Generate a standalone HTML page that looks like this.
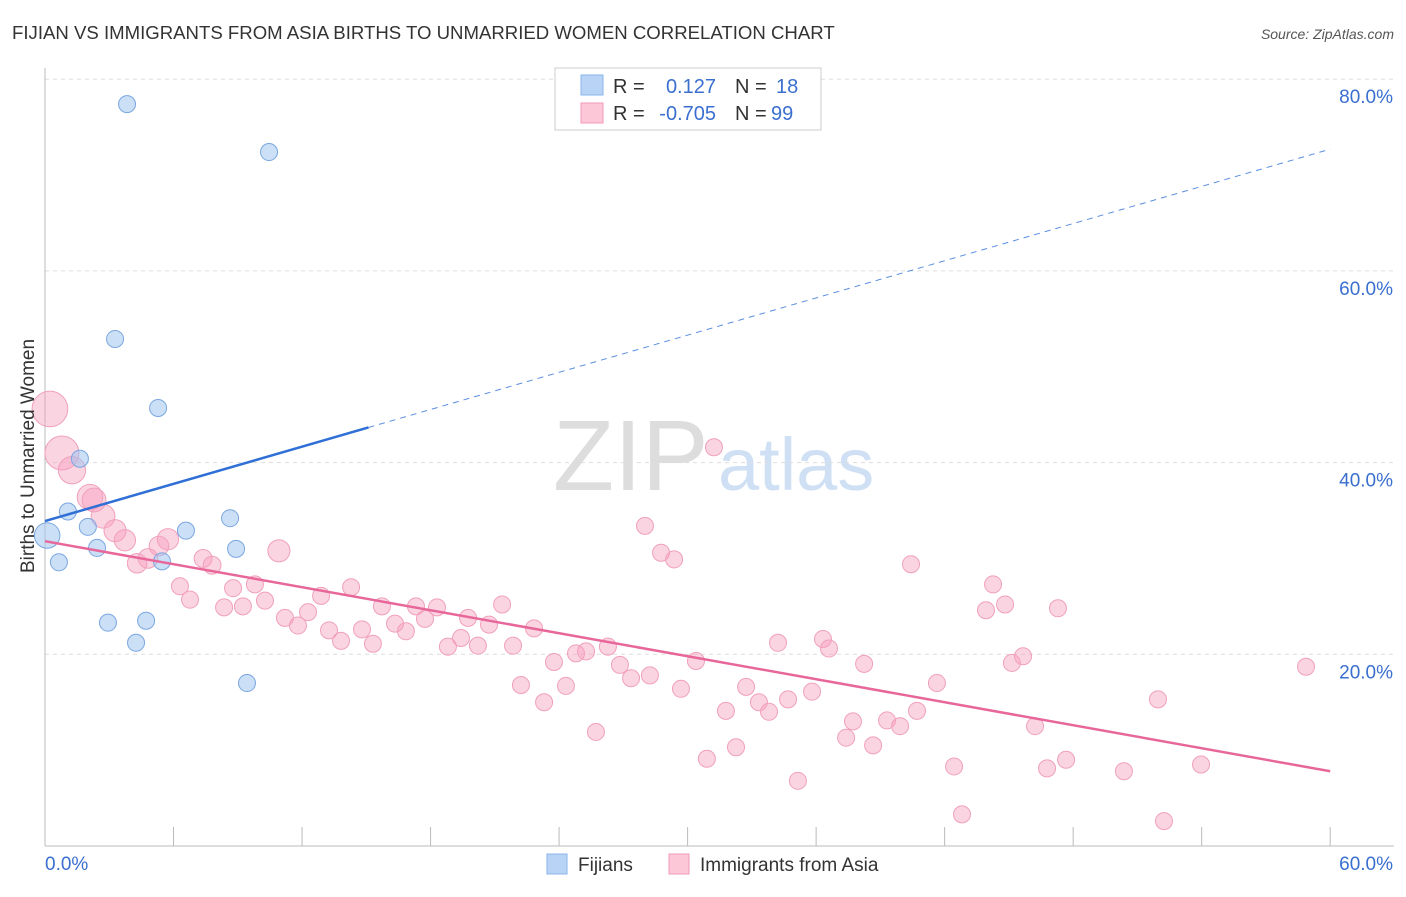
<!DOCTYPE html>
<html><head><meta charset="utf-8"><style>
body{margin:0;background:#fff;font-family:"Liberation Sans",sans-serif;}
svg text{font-family:"Liberation Sans",sans-serif;}
</style></head><body>
<svg id="chart" width="1406" height="892" xmlns="http://www.w3.org/2000/svg">
<text x="12" y="39" font-size="18.6" fill="#333">FIJIAN VS IMMIGRANTS FROM ASIA BIRTHS TO UNMARRIED WOMEN CORRELATION CHART</text>
<text x="1394" y="39" font-size="14" fill="#555" font-style="italic" text-anchor="end">Source: ZipAtlas.com</text>
<g>
<text x="553" y="490" font-size="100" fill="#ddd" font-family="Liberation Serif">ZIP</text>
<text x="718" y="490" font-size="74" fill="#cfe0f5">atlas</text>
</g>
<g id="grid"></g>
<g id="axes"></g>
<g id="marks"></g>
<text transform="translate(34,456) rotate(-90)" font-size="19" fill="#333" text-anchor="middle">Births to Unmarried Women</text>
<g>
<rect x="555" y="68" width="266" height="62" fill="#fff" stroke="#ccc"/>
<rect x="581" y="75" width="22" height="20" fill="#b8d3f5" stroke="#8ab4ea"/>
<rect x="581" y="103" width="22" height="20" fill="#fcc8d8" stroke="#f09ab5"/>
<text x="613" y="93" font-size="20" fill="#333">R =</text>
<text x="716" y="93" font-size="20" fill="#3a6fd0" text-anchor="end">0.127</text>
<text x="735" y="93" font-size="20" fill="#333">N =</text>
<text x="776" y="93" font-size="20" fill="#3a6fd0">18</text>
<text x="613" y="120" font-size="20" fill="#333">R =</text>
<text x="716" y="120" font-size="20" fill="#3a6fd0" text-anchor="end">-0.705</text>
<text x="735" y="120" font-size="20" fill="#333">N =</text>
<text x="771" y="120" font-size="20" fill="#3a6fd0">99</text>
</g>
<g>
<rect x="547" y="854" width="20" height="20" fill="#b8d3f5" stroke="#8ab4ea"/>
<text x="578" y="871" font-size="19" fill="#333">Fijians</text>
<rect x="669" y="854" width="20" height="20" fill="#fcc8d8" stroke="#f09ab5"/>
<text x="700" y="871" font-size="19" fill="#333">Immigrants from Asia</text>
</g>
</svg>
<script>
const xTicks=[0,6,12,18,24,30,36,42,48,54,60];
const yTicks=[20,40,60,80];
const yTickLabels=["20.0%","40.0%","60.0%","80.0%"];
const xEndLabels=["0.0%","60.0%"];
const fijiX=[3.83,10.46,3.27,5.28,1.63,1.07,2.0,0.1,2.43,0.65,5.46,6.58,8.64,8.92,2.94,4.72,4.25,9.43];
const fijiY=[77.4,72.4,52.9,45.7,40.4,34.9,33.3,32.4,31.1,29.6,29.7,32.9,34.2,31.0,23.3,23.5,21.2,17.0];
const asiaX=[0.23,0.79,1.26,2.1,2.29,2.71,3.27,3.73,5.74,5.32,4.81,4.30,7.38,7.8,10.92,6.30,6.77,8.78,9.80,8.36,9.24,10.27,11.2,11.81,12.28,12.89,14.29,13.26,13.82,14.8,15.31,15.73,16.34,16.85,17.32,17.74,18.3,18.81,19.42,19.75,20.21,20.73,21.34,21.85,22.83,22.22,23.30,23.76,24.32,24.79,25.26,25.72,26.28,26.84,27.36,28.24,28.01,28.76,29.37,31.23,29.69,30.39,30.9,31.79,32.26,32.73,33.33,33.8,34.22,34.69,35.15,35.81,36.32,36.6,37.4,37.72,38.24,38.66,39.31,39.92,40.43,40.71,41.64,42.44,42.81,43.93,44.26,44.82,45.14,45.66,46.22,46.78,47.29,47.67,50.37,51.96,52.24,53.97,58.87];
const asiaY=[45.6,41.0,39.2,36.4,36.1,34.4,32.9,31.9,32.0,31.3,30.0,29.5,30.0,29.3,30.8,27.1,25.7,26.9,27.3,24.9,25.0,25.6,23.8,23.0,24.4,26.1,27.0,22.5,21.4,22.6,21.1,25.0,23.2,22.4,25.0,23.7,24.9,20.8,21.7,23.8,20.9,23.1,25.2,20.9,22.7,16.8,15.0,19.2,16.7,20.1,20.3,11.9,20.8,18.9,17.5,17.8,33.4,30.6,29.9,41.6,16.4,19.3,9.1,14.1,10.3,16.6,15.0,14.0,21.2,15.3,6.8,16.1,21.6,20.6,11.3,13.0,19.0,10.5,13.1,12.5,29.4,14.1,17.0,8.3,3.3,24.6,27.3,25.2,19.1,19.8,12.5,8.1,24.8,9.0,7.8,15.3,2.6,8.5,18.7];
const asiaWeight=[2.1,2.0,1.6,1.5,1.4,1.4,1.3,1.25,1.25,1.15,1.15,1.15,1.05,1.05,1.3];
const fijiWeight=[1,1,1,1,1,1,1,1.5];
const fijiTrend=[33.9,72.7], fijiSolidEnd=15.1;
const asiaTrend=[31.8,7.8];
const NS="http://www.w3.org/2000/svg";
const X=v=>45+v*21.42, Y=v=>846-v*9.585;
function mk(tag,parent,attrs){const e=document.createElementNS(NS,tag);for(const k in attrs)e.setAttribute(k,attrs[k]);parent.appendChild(e);return e;}
const grid=document.getElementById('grid'),axes=document.getElementById('axes'),marks=document.getElementById('marks');
yTicks.forEach((t,i)=>{
 const l=mk('line',grid,{x1:45,x2:1394,y1:Y(t),y2:Y(t),stroke:'#ddd','stroke-dasharray':'4,4'});
 
 
 const tx=mk('text',axes,{x:1393,y:Y(t)+24,'font-size':19,fill:'#3a6fd0','text-anchor':'end'});
 tx.textContent=yTickLabels[i];
 
 
});
const ax=mk('line',axes,{x1:45,x2:1394,y1:846,y2:846,stroke:'#bbb'});


const ay=mk('line',axes,{x1:45,x2:45,y1:68,y2:846,stroke:'#bbb'});


xTicks.forEach(t=>{
 const l=mk('line',axes,{x1:X(t),x2:X(t),y1:827,y2:846,stroke:'#bbb'});
 
 
});
const xl0=mk('text',axes,{x:45,y:870,'font-size':19,fill:'#3a6fd0'});xl0.textContent=xEndLabels[0];


const xl1=mk('text',axes,{x:1393,y:870,'font-size':19,fill:'#3a6fd0','text-anchor':'end'});xl1.textContent=xEndLabels[1];


asiaX.forEach((v,i)=>{
 const c=mk('circle',marks,{cx:X(v),cy:Y(asiaY[i]),r:8.5*(asiaWeight[i]||1),fill:'rgba(247,160,190,0.45)',stroke:'#f0a0bb','stroke-width':1});
 
 
});
fijiX.forEach((v,i)=>{
 const c=mk('circle',marks,{cx:X(v),cy:Y(fijiY[i]),r:8.5*(fijiWeight[i]||1),fill:'rgba(160,196,240,0.55)',stroke:'#7aa7e0','stroke-width':1});
 
 
});
const fy=v=>fijiTrend[0]+(fijiTrend[1]-fijiTrend[0])*v/60;
const bl=mk('line',marks,{x1:X(0),y1:Y(fy(0)),x2:X(fijiSolidEnd),y2:Y(fy(fijiSolidEnd)),stroke:'#2f6fd6','stroke-width':2.5});


const bd=mk('line',marks,{x1:X(fijiSolidEnd),y1:Y(fy(fijiSolidEnd)),x2:X(60),y2:Y(fy(60)),stroke:'#5b8fe0','stroke-width':1,'stroke-dasharray':'6,5'});


const pl=mk('line',marks,{x1:X(0),y1:Y(asiaTrend[0]),x2:X(60),y2:Y(asiaTrend[1]),stroke:'#e8679a','stroke-width':2.5});


</script>
</body></html>
